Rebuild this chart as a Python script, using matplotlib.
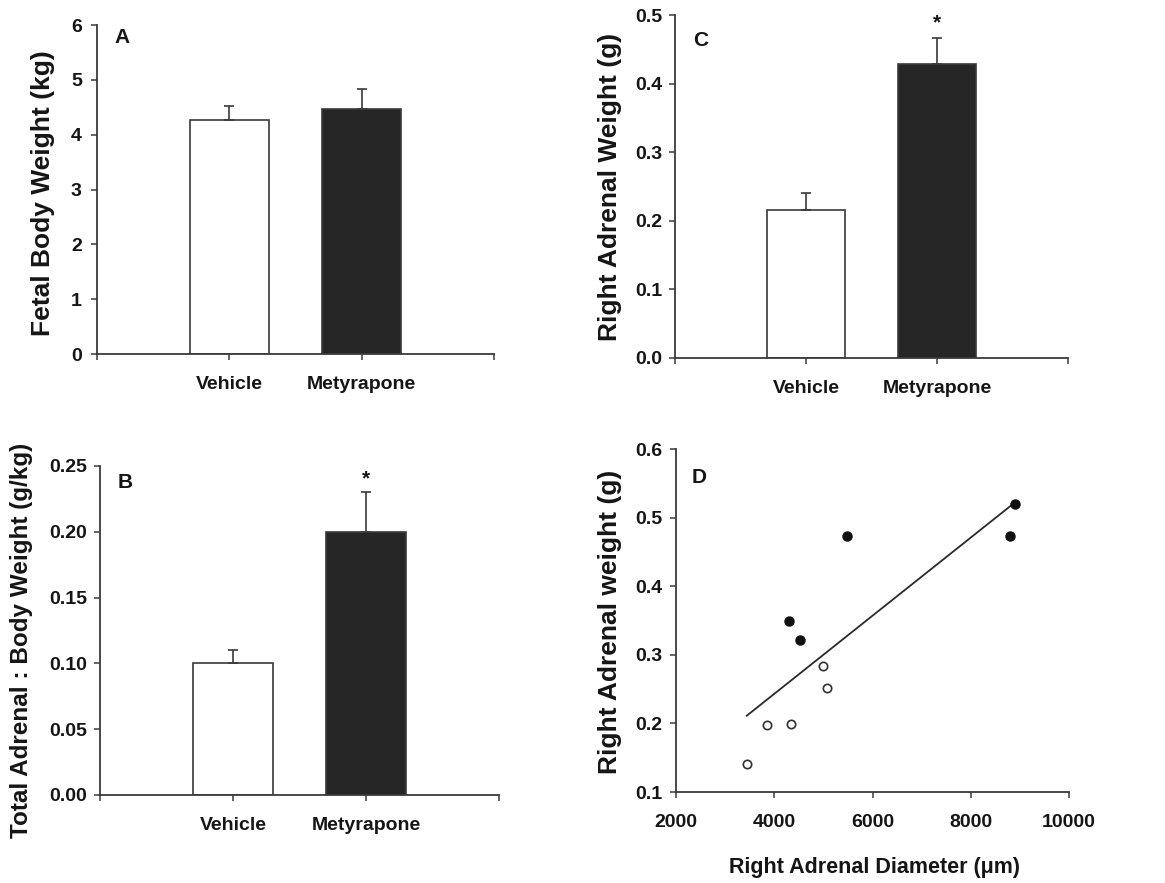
#Adrenal figure - panels A to D
#Vehicle vs Metyrapone, bar charts with SEM plus adrenal weight vs diameter

import numpy as np
import matplotlib
matplotlib.use('Agg')
import matplotlib.pyplot as plt
import matplotlib.ticker as mtick

################ data ################
groups = ['Vehicle', 'Metyrapone']

# A: fetal body weight (kg)
body_weight = [4.27, 4.47]
body_weight_err = [0.25, 0.36]

# B: total adrenal : body weight (g/kg)
ratio = [0.100, 0.200]
ratio_err = [0.010, 0.030]

# C: right adrenal weight (g)
adrenal_weight = [0.215, 0.428]
adrenal_weight_err = [0.025, 0.039]

# D: right adrenal diameter (um) vs weight (g)
veh_diam = [3440, 3850, 4340, 4990, 5070]
veh_wt = [0.141, 0.198, 0.199, 0.284, 0.251]
met_diam = [4290, 4525, 5490, 8800, 8900]
met_wt = [0.350, 0.322, 0.474, 0.473, 0.520]
########################################

plt.rcParams['font.family'] = ['Liberation Sans', 'DejaVu Sans']
plt.rcParams['font.weight'] = 'bold'

axis_col = '#3a3a3a'
txt_col = '#151515'
bar_cols = ['white', '#262626']

fig = plt.figure(figsize=(11.65, 8.83), dpi=100)

axA = fig.add_axes([0.0833, 0.599, 0.3408, 0.3726])
axB = fig.add_axes([0.0858, 0.0997, 0.3425, 0.3726])
axC = fig.add_axes([0.5794, 0.5946, 0.3373, 0.3884])
axD = fig.add_axes([0.5803, 0.103, 0.3373, 0.3884])


def style_axis(ax, ypad):
    for s in ['top', 'right']:
        ax.spines[s].set_visible(False)
    for s in ['left', 'bottom']:
        ax.spines[s].set_color(axis_col)
        ax.spines[s].set_linewidth(1.3)
    ax.tick_params(axis='both', direction='out', length=4, width=1.1,
                   color=axis_col, labelsize=14, labelcolor=txt_col)
    ax.tick_params(axis='y', pad=ypad)


def bar_panel(ax, vals, errs, ylim, yticks, fmt, ylabel, letter, letter_y, star=None):
    x = np.arange(1, len(vals) + 1)
    ax.bar(x, vals, width=0.6, color=bar_cols, edgecolor=axis_col, linewidth=1.2, zorder=2)
    ax.errorbar(x, vals, yerr=[np.zeros(len(errs)), errs], fmt='none',
                ecolor=axis_col, elinewidth=1.2, capsize=3.5, capthick=1.2, zorder=3)
    ax.set_xlim(0, 3)
    ax.set_ylim(*ylim)
    ax.set_xticks([0, 1, 2, 3])
    ax.set_xticklabels(['', groups[0], groups[1], ''])
    ax.tick_params(axis='x', pad=12)
    ax.set_yticks(yticks)
    ax.yaxis.set_major_formatter(mtick.FormatStrFormatter(fmt))
    ax.set_ylabel(ylabel, fontsize=19, fontweight='bold', color=txt_col)
    ax.text(0.045, letter_y, letter, transform=ax.transAxes, fontsize=15,
            fontweight='bold', color=txt_col, va='center')
    if star is not None:
        ax.text(2, star, '*', ha='center', va='center', fontsize=15,
                fontweight='bold', color=txt_col, clip_on=False)


style_axis(axA, 7)
bar_panel(axA, body_weight, body_weight_err, (0, 6), range(0, 7), '%d',
          'Fetal Body Weight (kg)', 'A', 0.962)
axA.yaxis.set_label_coords(-0.106, 0.49)

style_axis(axB, 5)
bar_panel(axB, ratio, ratio_err, (0, 0.25), np.arange(0, 0.26, 0.05), '%.2f',
          'Total Adrenal : Body Weight (g/kg)', 'B', 0.951, star=0.240)
axB.yaxis.label.set_fontsize(17.5)
axB.yaxis.set_label_coords(-0.168, 0.47)

style_axis(axC, 5)
bar_panel(axC, adrenal_weight, adrenal_weight_err, (0, 0.5), np.arange(0, 0.51, 0.1), '%.1f',
          'Right Adrenal Weight (g)', 'C', 0.927, star=0.488)
axC.yaxis.set_label_coords(-0.135, 0.50)

# D: scatter with linear regression over all animals
style_axis(axD, 6)
axD.tick_params(axis='x', pad=12)
all_d = np.array(veh_diam + met_diam)
all_w = np.array(veh_wt + met_wt)
m, b = np.polyfit(all_d, all_w, 1)
xr = np.array([all_d.min(), all_d.max()])
axD.plot(xr, m * xr + b, color='#2a2a2a', linewidth=1.3, zorder=2)
axD.plot(veh_diam, veh_wt, 'o', ms=6, mfc='white', mec='#303030', mew=1.2, zorder=3)
axD.plot(met_diam, met_wt, 'o', ms=6.5, mfc='#111111', mec='#111111', mew=1, zorder=3)
axD.set_xlim(2000, 10000)
axD.set_ylim(0.1, 0.6)
axD.set_xticks(range(2000, 10001, 2000))
axD.set_yticks(np.arange(0.1, 0.61, 0.1))
axD.yaxis.set_major_formatter(mtick.FormatStrFormatter('%.1f'))
axD.set_ylabel('Right Adrenal weight (g)', fontsize=19, fontweight='bold', color=txt_col)
axD.yaxis.set_label_coords(-0.137, 0.496)
axD.set_xlabel('Right Adrenal Diameter (\u03bcm)', fontsize=15.5, fontweight='bold', color=txt_col)
axD.xaxis.set_label_coords(0.504, -0.19)
axD.text(0.04, 0.918, 'D', transform=axD.transAxes, fontsize=15,
         fontweight='bold', color=txt_col, va='center')

plt.savefig('out.png', dpi=100)
